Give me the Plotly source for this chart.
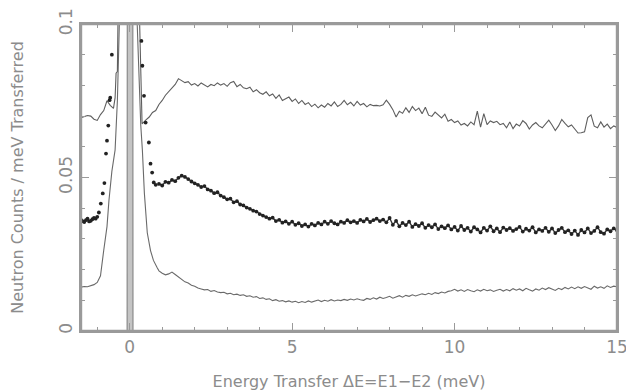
import numpy as np
import plotly.graph_objects as go

# ---------------- data ----------------
# upper solid curve
top_x_peak = [-1.5, -1.4, -1.3, -1.2, -1.1, -1.0, -0.9, -0.8, -0.7, -0.6, -0.5,
              -0.45, -0.42, -0.38, -0.34, 0.26, 0.32, 0.38]
top_y_peak = [0.0695, 0.0698, 0.0702, 0.0700, 0.0690, 0.0686, 0.0705, 0.0718, 0.0750, 0.0735, 0.0725,
              0.0760, 0.0840, 0.0845, 0.1200, 0.1200, 0.0900, 0.0675]
top_x_tail = list(np.round(np.arange(0.5, 15.0001, 0.1), 1))
top_y_tail = [
    0.0688, 0.0697, 0.0712, 0.0718, 0.0738, 0.0751, 0.0768, 0.0779, 0.0792, 0.0803,
    0.0822, 0.0816, 0.0809, 0.0812, 0.0801, 0.0806, 0.0798, 0.0808, 0.0801, 0.0795,
    0.0803, 0.0799, 0.0808, 0.0801, 0.0806, 0.0797, 0.0809, 0.0813, 0.0796, 0.0803,
    0.0792, 0.0789, 0.0794, 0.0779, 0.0786, 0.0776, 0.0771, 0.0779, 0.0766, 0.0772,
    0.0758, 0.0769, 0.0751, 0.0757, 0.0762, 0.0748, 0.0756, 0.0741, 0.0751, 0.0738,
    0.0744, 0.0731, 0.0739, 0.0727, 0.0736, 0.0729, 0.0741, 0.0733, 0.0746, 0.0731,
    0.0738, 0.0751, 0.0737, 0.0745, 0.0733, 0.0748, 0.0736, 0.0741, 0.0730, 0.0738,
    0.0734, 0.0735, 0.0733, 0.0737, 0.0752, 0.0738, 0.0721, 0.0697, 0.0716, 0.0709,
    0.0727, 0.0712, 0.0731, 0.0718, 0.0726, 0.0708, 0.0729, 0.0703, 0.0699, 0.0713,
    0.0702, 0.0694, 0.0706, 0.0683, 0.0689, 0.0679, 0.0684, 0.0671, 0.0676, 0.0668,
    0.0681, 0.0672, 0.0716, 0.0664, 0.0708, 0.0672, 0.0684, 0.0679, 0.0683, 0.0672,
    0.0676, 0.0662, 0.0681, 0.0659, 0.0674, 0.0668, 0.0685, 0.0676, 0.0658, 0.0671,
    0.0679, 0.0668, 0.0662, 0.0674, 0.0687, 0.0671, 0.0653, 0.0668, 0.0689, 0.0676,
    0.0665, 0.0671, 0.0659, 0.0645, 0.0646, 0.0649, 0.0695, 0.0704, 0.0667, 0.0662,
    0.0681, 0.0664, 0.0674, 0.0659, 0.0668, 0.0663,
]

# middle series (points)
mid_x_base = [-1.5, -1.45, -1.4, -1.35, -1.3, -1.25, -1.2, -1.15, -1.1, -1.05, -1.0]
mid_y_base = [0.0362, 0.0358, 0.0355, 0.0361, 0.0366, 0.0357, 0.0359, 0.0364, 0.0368, 0.0366, 0.0372]
mid_x_peak = [-0.95, -0.89, -0.83, -0.78, -0.73, -0.70, -0.66, -0.62, -0.60, -0.55, -0.50,
              0.33, 0.36, 0.39, 0.44, 0.49, 0.59, 0.64, 0.69, 0.74, 0.80]
mid_y_peak = [0.0386, 0.0415, 0.0448, 0.0482, 0.0578, 0.0620, 0.0669, 0.0752, 0.0760, 0.0900, 0.1100,
              0.1050, 0.0945, 0.0864, 0.0766, 0.0679, 0.0614, 0.0545, 0.0516, 0.0484, 0.0476]
mid_x_tail = list(np.round(np.arange(0.9, 15.0001, 0.1), 1))
mid_y_tail = [
    0.0479, 0.0474, 0.0486, 0.0483, 0.0492, 0.0488, 0.0499, 0.0506, 0.0502, 0.0495,
    0.0487, 0.0481, 0.0476, 0.0469, 0.0472, 0.0461, 0.0457, 0.0449, 0.0452, 0.0441,
    0.0436, 0.0429, 0.0431, 0.0419, 0.0423, 0.0412, 0.0409, 0.0402, 0.0398, 0.0392,
    0.0389, 0.0381, 0.0376, 0.0371, 0.0366, 0.0369, 0.0358, 0.0362, 0.0353, 0.0357,
    0.0349, 0.0356, 0.0346, 0.0351, 0.0342, 0.0347, 0.0340, 0.0349, 0.0344, 0.0352,
    0.0347, 0.0356, 0.0349, 0.0358, 0.0351, 0.0347, 0.0356, 0.0352, 0.0361, 0.0354,
    0.0358, 0.0352, 0.0362, 0.0357, 0.0365, 0.0355, 0.0361, 0.0366, 0.0358, 0.0363,
    0.0354, 0.0368, 0.0346, 0.0359, 0.0341, 0.0352, 0.0345, 0.0356, 0.0339, 0.0348,
    0.0342, 0.0351, 0.0336, 0.0345, 0.0338, 0.0347, 0.0332, 0.0341, 0.0335, 0.0344,
    0.0331, 0.0339, 0.0327, 0.0342, 0.0329, 0.0336, 0.0324, 0.0338, 0.0331, 0.0321,
    0.0336, 0.0327, 0.0341, 0.0325, 0.0334, 0.0322, 0.0337, 0.0329, 0.0335, 0.0326,
    0.0332, 0.0339, 0.0324, 0.0333, 0.0327, 0.0338, 0.0321, 0.0331, 0.0326, 0.0336,
    0.0323, 0.0334, 0.0319, 0.0329, 0.0336, 0.0322, 0.0328, 0.0316, 0.0327, 0.0313,
    0.0329, 0.0321, 0.0334, 0.0319, 0.0326, 0.0338, 0.0322, 0.0317, 0.0331, 0.0325,
    0.0334, 0.0328,
]

# lower solid curve
low_x_peak = [-1.5, -1.4, -1.3, -1.2, -1.1, -1.0, -0.9, -0.8, -0.7, -0.64, -0.55, -0.45, -0.38,
              -0.32, -0.25, 0.15, 0.23, 0.34, 0.39, 0.45, 0.54, 0.64, 0.73, 0.85]
low_y_peak = [0.0143, 0.0145, 0.0144, 0.0147, 0.0151, 0.0158, 0.0180, 0.0263, 0.0340, 0.0425, 0.0520, 0.0590, 0.0750,
              0.1000, 0.1600, 0.1600, 0.1000, 0.0670, 0.0588, 0.0450, 0.0320, 0.0262, 0.0230, 0.0205]
low_x_tail = list(np.round(np.arange(0.9, 15.0001, 0.1), 1))
low_y_tail = [
    0.0196, 0.0188, 0.0183, 0.0186, 0.0192, 0.0184, 0.0175, 0.0168, 0.0160, 0.0156,
    0.0149, 0.0146, 0.0140, 0.0137, 0.0134, 0.0135, 0.0129, 0.0132, 0.0127, 0.0125,
    0.0126, 0.0121, 0.0123, 0.0118, 0.0120, 0.0116, 0.0118, 0.0113, 0.0115, 0.0110,
    0.0112, 0.0106, 0.0108, 0.0103, 0.0105, 0.0099, 0.0102, 0.0097, 0.0099, 0.0095,
    0.0098, 0.0094, 0.0097, 0.0092, 0.0096, 0.0093, 0.0098, 0.0094, 0.0097, 0.0101,
    0.0096, 0.0100, 0.0097, 0.0102, 0.0098, 0.0101, 0.0099, 0.0103, 0.0100, 0.0104,
    0.0101, 0.0105, 0.0102, 0.0100, 0.0106, 0.0103, 0.0108, 0.0104, 0.0110, 0.0106,
    0.0109, 0.0113, 0.0107, 0.0111, 0.0115, 0.0110, 0.0116, 0.0113, 0.0118, 0.0114,
    0.0117, 0.0121, 0.0118, 0.0123, 0.0119, 0.0125, 0.0122, 0.0127, 0.0124, 0.0129,
    0.0131, 0.0136, 0.0130, 0.0134, 0.0129, 0.0135, 0.0131, 0.0128, 0.0134, 0.0130,
    0.0136, 0.0131, 0.0134, 0.0129, 0.0133, 0.0136, 0.0130, 0.0135, 0.0131, 0.0138,
    0.0133, 0.0137, 0.0131, 0.0139, 0.0134, 0.0130, 0.0137, 0.0133, 0.0140, 0.0135,
    0.0141, 0.0136, 0.0132, 0.0139, 0.0135, 0.0142, 0.0137, 0.0143, 0.0138, 0.0144,
    0.0139, 0.0145, 0.0141, 0.0136, 0.0146, 0.0140, 0.0144, 0.0139, 0.0147, 0.0142,
    0.0146, 0.0144,
]

# narrow elastic line at zero energy transfer
elastic_x = [-0.08, -0.07, 0.09, 0.10]
elastic_y = [0.0, 0.2, 0.2, 0.0]

x_tickvals = [0, 5, 10, 15]
x_ticktext = ["0", "5", "10", "15"]
y_tickvals = [0, 0.05, 0.0999]
y_ticktext = ["0", "0.05", "0.1"]

# ---------------- figure ----------------
AX = "#9a9a9a"
TXT = "#8c8c8c"
FONT = "DejaVu Sans"

fig = go.Figure()
fig.add_trace(go.Scatter(x=elastic_x, y=elastic_y, mode="lines", fill="toself",
                         fillcolor="#c4c4c4", line=dict(color="#8a8a8a", width=1.2),
                         hoverinfo="skip", showlegend=False))
fig.add_trace(go.Scatter(x=low_x_peak + low_x_tail, y=low_y_peak + low_y_tail, mode="lines",
                         line=dict(color="#6a6a6a", width=1.1), showlegend=False))
fig.add_trace(go.Scatter(x=top_x_peak + top_x_tail, y=top_y_peak + top_y_tail, mode="lines",
                         line=dict(color="#5e5e5e", width=1.1), showlegend=False))
# connecting jagged line through the dense parts of the point series
fig.add_trace(go.Scatter(x=mid_x_base, y=mid_y_base, mode="lines",
                         line=dict(color="#333333", width=1.4), showlegend=False))
fig.add_trace(go.Scatter(x=mid_x_tail, y=mid_y_tail, mode="lines",
                         line=dict(color="#333333", width=1.4), showlegend=False))
fig.add_trace(go.Scatter(x=mid_x_base + mid_x_peak + mid_x_tail, y=mid_y_base + mid_y_peak + mid_y_tail,
                         mode="markers", marker=dict(color="#222222", size=3.8), showlegend=False))

# plot frame drawn as a domain-referenced rectangle
fig.add_shape(type="rect", xref="x domain", yref="y domain", x0=0, x1=1, y0=0, y1=1,
              line=dict(color=AX, width=2.4), fillcolor="rgba(0,0,0,0)", layer="above")

# the page body adds an 8px offset, so margins are reduced on the left/top
fig.update_layout(
    width=634, height=392,
    margin=dict(l=73, r=25, t=16, b=69),
    paper_bgcolor="white", plot_bgcolor="white",
    font=dict(family=FONT, color=TXT),
)
fig.update_xaxes(
    range=[-1.5, 15], showgrid=False, zeroline=False, automargin=False,
    showline=True, linecolor=AX, linewidth=2, mirror="allticks",
    ticks="inside", ticklen=8, tickwidth=1.3, tickcolor=AX,
    tickvals=x_tickvals, ticktext=x_ticktext,
    tickfont=dict(family=FONT, size=17, color=TXT),
    minor=dict(ticks="inside", ticklen=4, tickwidth=1.1, tickcolor=AX, dtick=1, tick0=0, showgrid=False),
    title=dict(text="Energy Transfer \u0394E=E1\u2212E2 (meV)",
               font=dict(family=FONT, size=16, color=TXT), standoff=19),
)
fig.update_yaxes(
    range=[0, 0.1], showgrid=False, zeroline=False, automargin=False,
    showline=True, linecolor=AX, linewidth=2, mirror="allticks",
    ticks="inside", ticklen=8, tickwidth=1.3, tickcolor=AX,
    tickvals=y_tickvals, ticktext=y_ticktext, tickangle=-90,
    tickfont=dict(family=FONT, size=17, color=TXT),
    minor=dict(ticks="inside", ticklen=4, tickwidth=1.1, tickcolor=AX, dtick=0.01, tick0=0, showgrid=False),
    title=dict(text="Neutron Counts / meV Transferred",
               font=dict(family=FONT, size=16, color=TXT), standoff=30),
)

fig.write_html("out.html")
